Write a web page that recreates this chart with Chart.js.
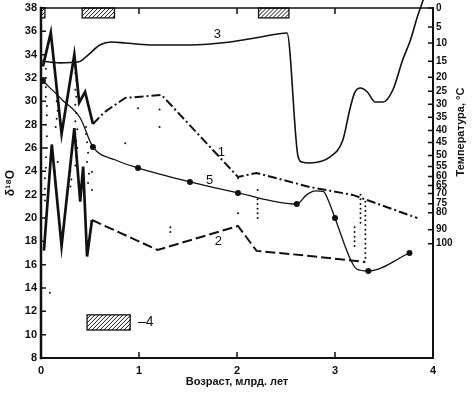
<!DOCTYPE html>
<html>
<head>
<meta charset="utf-8">
<script src="https://cdn.jsdelivr.net/npm/chart.js"></script>
<style>
html, body { margin: 0; padding: 0; background: #fff; }
#wrap { width: 475px; height: 393px; }
</style>
</head>
<body>
<div id="wrap"><canvas id="chart" width="475" height="393"></canvas></div>
<script>
// axes
var ageTicks = [0, 1, 2, 3, 4];
var d18oTicks = [8, 10, 12, 14, 16, 18, 20, 22, 24, 26, 28, 30, 32, 34, 36, 38];
var tempLabels = [0, 5, 10, 15, 20, 25, 30, 35, 40, 45, 50, 55, 60, 65, 70, 75, 80, 90, 100];
var tempAtD18o = [38, 36.37, 34.99, 33.44, 32.07, 30.86, 29.75, 28.63, 27.51, 26.48, 25.36, 24.41, 23.55, 22.78, 22.09, 21.23, 20.46, 19.0, 17.8];

// curve 3 (temperature)
var c3Age = [0, 0.19, 0.38, 0.48, 0.60, 0.72, 0.86, 1.11, 1.52, 1.93, 2.23, 2.51, 2.62, 2.66, 2.74, 2.95, 3.08, 3.15, 3.20, 3.26, 3.33, 3.41, 3.49, 3.59, 3.69, 3.77, 3.84, 3.90];
var c3Val = [33.46, 33.3, 33.37, 33.97, 34.83, 35.09, 35.0, 34.83, 34.83, 35.09, 35.5, 35.86, 25.4, 24.8, 24.72, 25.23, 26.69, 29.26, 30.72, 31.14, 30.8, 29.94, 29.94, 30.97, 33.54, 35.26, 37.23, 38.7];

// curve 5 and its measured points
var c5Age = [0.02, 0.22, 0.40, 0.53, 0.76, 0.99, 1.52, 2.01, 2.61, 2.71, 2.80, 2.88, 2.93, 3.00, 3.15, 3.22, 3.34, 3.76];
var c5Val = [31.74, 30.1, 28.57, 26.09, 24.97, 24.29, 23.09, 22.15, 21.2, 21.98, 22.32, 22.29, 21.55, 20.0, 16.6, 15.63, 15.46, 17.0];
var c5DotAge = [0.02, 0.53, 0.99, 1.52, 2.01, 2.61, 3.00, 3.34, 3.76];
var c5DotVal = [31.74, 26.09, 24.29, 23.09, 22.15, 21.2, 20.0, 15.46, 17.0];

// upper envelope 1, lower envelope 2
var c1Age = [0.53, 0.65, 0.86, 1.23, 2.01, 2.20, 2.74, 3.18, 3.84];
var c1Val = [28.06, 29.09, 30.29, 30.55, 23.52, 23.86, 22.66, 21.98, 20.0];
var c2Age = [0.52, 1.19, 2.01, 2.20, 2.74, 3.31];
var c2Val = [19.83, 17.26, 19.32, 17.18, 16.75, 16.23];

// zigzags of the young part
var zUpAge = [0.02, 0.10, 0.21, 0.34, 0.39, 0.45, 0.53];
var zUpVal = [33.0, 35.9, 27.2, 34.0, 29.9, 30.8, 28.06];
var zLoAge = [0.03, 0.11, 0.21, 0.34, 0.40, 0.43, 0.47, 0.52];
var zLoVal = [17.2, 26.3, 17.6, 27.7, 21.4, 24.4, 16.7, 19.83];

// single measurements
var ptAge = [0.05, 0.05, 0.05, 0.05, 0.06, 0.06, 0.05, 0.06, 0.06, 0.05, 0.05, 0.04, 0.04, 0.04,
  0.16, 0.16, 0.17, 0.16, 0.15, 0.17, 0.14,
  0.35, 0.35, 0.36, 0.35, 0.36, 0.35, 0.36, 0.35, 0.37, 0.36, 0.37, 0.36, 0.35,
  0.30, 0.31, 0.30, 0.46, 0.46, 0.47, 0.48, 0.47, 0.49, 0.48, 0.52, 0.52,
  0.09, 0.86, 0.99, 1.21, 1.21, 1.32, 1.32, 2.01, 2.01, 2.21, 2.21, 2.21, 2.21, 2.21, 2.21,
  3.26, 3.26, 3.26, 3.26, 3.26, 3.26, 3.26,
  3.31, 3.31, 3.31, 3.31, 3.31, 3.31, 3.31, 3.31, 3.31, 3.31, 3.31, 3.31, 3.31,
  3.20, 3.20, 3.20, 3.20, 3.20];
var ptVal = [32.8, 32.0, 31.2, 30.4, 29.6, 28.8, 28.0, 27.0, 26.0, 25.2, 24.3, 23.4, 22.5, 21.5,
  30.8, 30.0, 29.2, 28.5, 27.8, 24.8, 24.0,
  33.0, 32.4, 31.8, 31.0, 30.4, 29.7, 29.0, 28.3, 27.6, 26.6, 26.0, 25.3, 24.5,
  24.0, 23.3, 22.7, 27.8, 27.2, 26.5, 25.6, 24.8, 23.8, 23.0, 23.95, 22.4,
  13.6, 26.4, 29.4, 29.3, 27.8, 19.2, 18.8, 23.4, 20.4, 22.4, 21.6, 21.2, 20.8, 20.4, 20.0,
  22.0, 21.6, 21.2, 20.8, 20.4, 20.0, 19.6,
  21.4, 21.0, 20.6, 20.2, 19.8, 19.4, 19.0, 18.6, 18.2, 17.8, 17.4, 17.0, 16.6,
  19.2, 18.8, 18.4, 18.0, 17.6];

// glaciations (hatched) along the top, and the legend box "-4"
var glacFrom = [0, 0.42, 2.22];
var glacTo = [0.04, 0.75, 2.53];
var glacBand = [37.15, 38];
var legendAge = [0.47, 0.91];
var legendVal = [10.4, 11.7];
var legendText = '–4';
var legendTextAt = [0.99, 11.05];

// curve numbers
var curveText = ['3', '5', '1', '2'];
var curveTextAge = [1.80, 1.72, 1.84, 1.81];
var curveTextVal = [35.7, 23.26, 25.66, 17.95];

function pts(xs, ys) {
  var out = [];
  for (var i = 0; i < xs.length; i++) out.push({x: xs[i], y: ys[i]});
  return out;
}

var INK = '#111';
var tickFont = {family: "'Liberation Sans', Arial, sans-serif", size: 11, weight: 'bold'};
var tempFont = {family: "'Liberation Sans', Arial, sans-serif", size: 10, weight: 'bold'};

function hatch(ctx, x1, y1, x2, y2) {
  ctx.save();
  ctx.fillStyle = '#fff';
  ctx.fillRect(x1, y1, x2 - x1, y2 - y1);
  ctx.beginPath();
  ctx.rect(x1, y1, x2 - x1, y2 - y1);
  ctx.clip();
  ctx.strokeStyle = INK;
  ctx.lineWidth = 1;
  var h = y2 - y1;
  for (var x = x1 - h; x < x2 + h; x += 4) {
    ctx.beginPath();
    ctx.moveTo(x, y2);
    ctx.lineTo(x + h, y1);
    ctx.stroke();
  }
  ctx.restore();
  ctx.save();
  ctx.strokeStyle = INK;
  ctx.lineWidth = 1.3;
  ctx.strokeRect(x1, y1, x2 - x1, y2 - y1);
  ctx.restore();
}

var extras = {
  id: 'extras',
  afterDatasetsDraw: function (chart) {
    var ctx = chart.ctx, xs = chart.scales.x, ys = chart.scales.y, y2s = chart.scales.y2;
    var a = chart.chartArea;
    var i;

    for (i = 0; i < glacFrom.length; i++) {
      hatch(ctx, xs.getPixelForValue(glacFrom[i]), ys.getPixelForValue(glacBand[1]),
        xs.getPixelForValue(glacTo[i]), ys.getPixelForValue(glacBand[0]));
    }
    hatch(ctx, xs.getPixelForValue(legendAge[0]), ys.getPixelForValue(legendVal[1]),
      xs.getPixelForValue(legendAge[1]), ys.getPixelForValue(legendVal[0]));

    ctx.save();
    ctx.fillStyle = INK;
    ctx.textBaseline = 'middle';
    ctx.font = "14px 'Liberation Sans', Arial, sans-serif";
    ctx.textAlign = 'left';
    ctx.fillText(legendText, xs.getPixelForValue(legendTextAt[0]), ys.getPixelForValue(legendTextAt[1]));
    ctx.textAlign = 'center';
    ctx.font = "13px 'Liberation Sans', Arial, sans-serif";
    for (i = 0; i < curveText.length; i++) {
      ctx.fillText(curveText[i], xs.getPixelForValue(curveTextAge[i]), ys.getPixelForValue(curveTextVal[i]));
    }
    ctx.restore();

    // frame
    ctx.save();
    ctx.strokeStyle = INK;
    ctx.lineCap = 'square';
    ctx.lineWidth = 2.5;
    ctx.beginPath(); ctx.moveTo(a.left, a.top); ctx.lineTo(a.left, a.bottom); ctx.stroke();
    ctx.lineWidth = 2;
    ctx.beginPath(); ctx.moveTo(a.left, a.bottom); ctx.lineTo(a.right, a.bottom); ctx.lineTo(a.right, a.top); ctx.stroke();
    ctx.lineWidth = 1.5;
    ctx.beginPath(); ctx.moveTo(a.left, a.top); ctx.lineTo(a.right, a.top); ctx.stroke();

    // inward ticks
    ctx.lineWidth = 1.5;
    ctx.lineCap = 'butt';
    ctx.beginPath();
    for (i = 0; i < d18oTicks.length; i++) {
      var py = ys.getPixelForValue(d18oTicks[i]);
      ctx.moveTo(a.left, py); ctx.lineTo(a.left + 5, py);
    }
    for (i = 0; i < tempAtD18o.length; i++) {
      var ty = y2s.getPixelForValue(tempAtD18o[i]);
      ctx.moveTo(a.right, ty); ctx.lineTo(a.right - 5, ty);
    }
    for (i = 1; i < ageTicks.length - 1; i++) {
      var px = xs.getPixelForValue(ageTicks[i]);
      ctx.moveTo(px, a.bottom); ctx.lineTo(px, a.bottom - 6);
      ctx.moveTo(px, a.top); ctx.lineTo(px, a.top + 6);
    }
    ctx.stroke();

    // right axis title
    ctx.translate(461, 132);
    ctx.rotate(-Math.PI / 2);
    ctx.fillStyle = INK;
    ctx.textAlign = 'center';
    ctx.textBaseline = 'middle';
    ctx.font = "bold 11px 'Liberation Sans', Arial, sans-serif";
    ctx.fillText('Температура, °C', 0, 0);
    ctx.restore();
  }
};

function fixVertical(width) {
  return function (s) {
    s.width = width;
    s.paddingTop = 0;
    s.paddingBottom = 0;
  };
}

var chart = new Chart(document.getElementById('chart'), {
  type: 'scatter',
  data: {
    datasets: [
      {data: pts(ptAge, ptVal), pointRadius: 1, pointBackgroundColor: INK, pointBorderWidth: 0, showLine: false},
      {data: pts(zUpAge, zUpVal), showLine: true, borderColor: INK, borderWidth: 2.7, pointRadius: 0, tension: 0},
      {data: pts(zLoAge, zLoVal), showLine: true, borderColor: INK, borderWidth: 2.7, pointRadius: 0, tension: 0},
      {data: pts(c1Age, c1Val), showLine: true, borderColor: INK, borderWidth: 2, borderDash: [9, 3, 2, 3], pointRadius: 0, tension: 0},
      {data: pts(c2Age, c2Val), showLine: true, borderColor: INK, borderWidth: 2, borderDash: [10, 4], pointRadius: 0, tension: 0},
      {data: pts(c3Age, c3Val), showLine: true, borderColor: INK, borderWidth: 1.6, pointRadius: 0, cubicInterpolationMode: 'monotone', clip: {left: 0, right: 0, bottom: 0, top: 8}},
      {data: pts(c5Age, c5Val), showLine: true, borderColor: INK, borderWidth: 1.3, pointRadius: 0, cubicInterpolationMode: 'monotone'},
      {data: pts(c5DotAge, c5DotVal), showLine: false, pointRadius: 3, pointBackgroundColor: INK, pointBorderWidth: 0}
    ]
  },
  options: {
    responsive: false,
    animation: false,
    devicePixelRatio: 1,
    layout: {padding: {top: 8, left: 0, right: 0, bottom: 0}},
    plugins: {legend: {display: false}, tooltip: {enabled: false}},
    scales: {
      x: {
        type: 'linear', min: 0, max: 4,
        afterBuildTicks: function (s) { s.ticks = ageTicks.map(function (v) { return {value: v}; }); },
        afterFit: function (s) { s.height = 35; s.paddingLeft = 0; s.paddingRight = 0; },
        grid: {display: false, drawTicks: false}, border: {display: false},
        ticks: {font: tickFont, color: INK, padding: 6, maxRotation: 0},
        title: {display: true, text: 'Возраст, млрд. лет', color: INK, font: tickFont, padding: {top: 0, bottom: 4}}
      },
      y: {
        position: 'left', min: 8, max: 38,
        afterBuildTicks: function (s) { s.ticks = d18oTicks.map(function (v) { return {value: v}; }); },
        afterFit: fixVertical(41),
        grid: {display: false, drawTicks: false}, border: {display: false},
        ticks: {font: tickFont, color: INK, padding: 4},
        title: {display: true, text: 'δ¹⁸O', color: INK, font: {family: "'Liberation Sans', Arial, sans-serif", size: 12, weight: 'bold'}, padding: {top: 3, bottom: 0}}
      },
      y2: {
        position: 'right', min: 8, max: 38,
        afterBuildTicks: function (s) { s.ticks = tempAtD18o.map(function (v) { return {value: v}; }); },
        afterFit: fixVertical(42),
        grid: {display: false, drawTicks: false}, border: {display: false},
        ticks: {
          font: tempFont, color: INK, padding: 3,
          callback: function (v, i) { return String(tempLabels[i]); }
        }
      }
    }
  },
  plugins: [extras]
});
</script>
</body>
</html>
